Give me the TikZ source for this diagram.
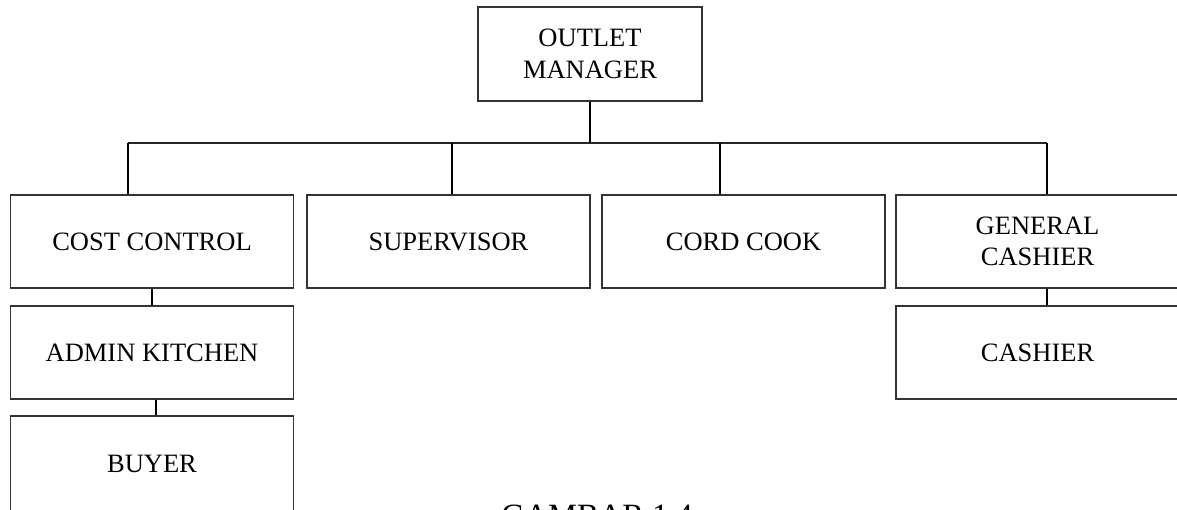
\documentclass[tikz,border=0pt]{standalone}
\usepackage{fontspec}
\setmainfont{Liberation Serif}
\begin{document}
\begin{tikzpicture}[x=1pt,y=-1pt,
  box/.style={draw=black!80,line width=1.3pt,minimum width=283pt,minimum height=93pt,inner sep=0pt,align=center,font=\fontsize{26.5}{31.5}\selectfont},
  link/.style={draw=black,line width=2.6pt},
  bus/.style={draw=black!85,line width=2.2pt}]
\useasboundingbox (0,0) rectangle (1177,509);
\node[box,minimum width=224pt,minimum height=94pt] (mgr) at (590,54) {OUTLET\\MANAGER};
\node[box] (cc) at (152,241.5) {COST CONTROL};
\node[box] (sup) at (448.5,241.5) {SUPERVISOR};
\node[box] (cook) at (743.5,241.5) {CORD COOK};
\node[box] (gc) at (1037.5,241.5) {GENERAL\\CASHIER};
\node[box] (ak) at (152,352.5) {ADMIN KITCHEN};
\node[box,minimum height=96pt] (buyer) at (152,464) {BUYER};
\node[box] (cashier) at (1037.5,352.5) {CASHIER};
\node[font=\fontsize{32.5}{36}\selectfont,inner sep=0pt,anchor=base] (cap) at (597,526.5) {GAMBAR 1.4};
\coordinate (b1) at (128,143);
\coordinate (b2) at (452,143);
\coordinate (b3) at (720,143);
\coordinate (b4) at (1047,143);
\coordinate (bm) at (590,143);
\draw[bus] (b1) -- (b4);
\draw[link] (mgr.south) -- (bm);
\draw[link] (b1) -- (b1 |- cc.north);
\draw[link] (b2) -- (b2 |- sup.north);
\draw[link] (b3) -- (b3 |- cook.north);
\draw[link] (b4) -- (b4 |- gc.north);
\draw[link] (cc.south) -- (ak.north);
\draw[link] ([xshift=4pt]ak.south) -- ([xshift=4pt]buyer.north);
\draw[link] (gc.south -| b4) -- (cashier.north -| b4);
\end{tikzpicture}
\end{document}
